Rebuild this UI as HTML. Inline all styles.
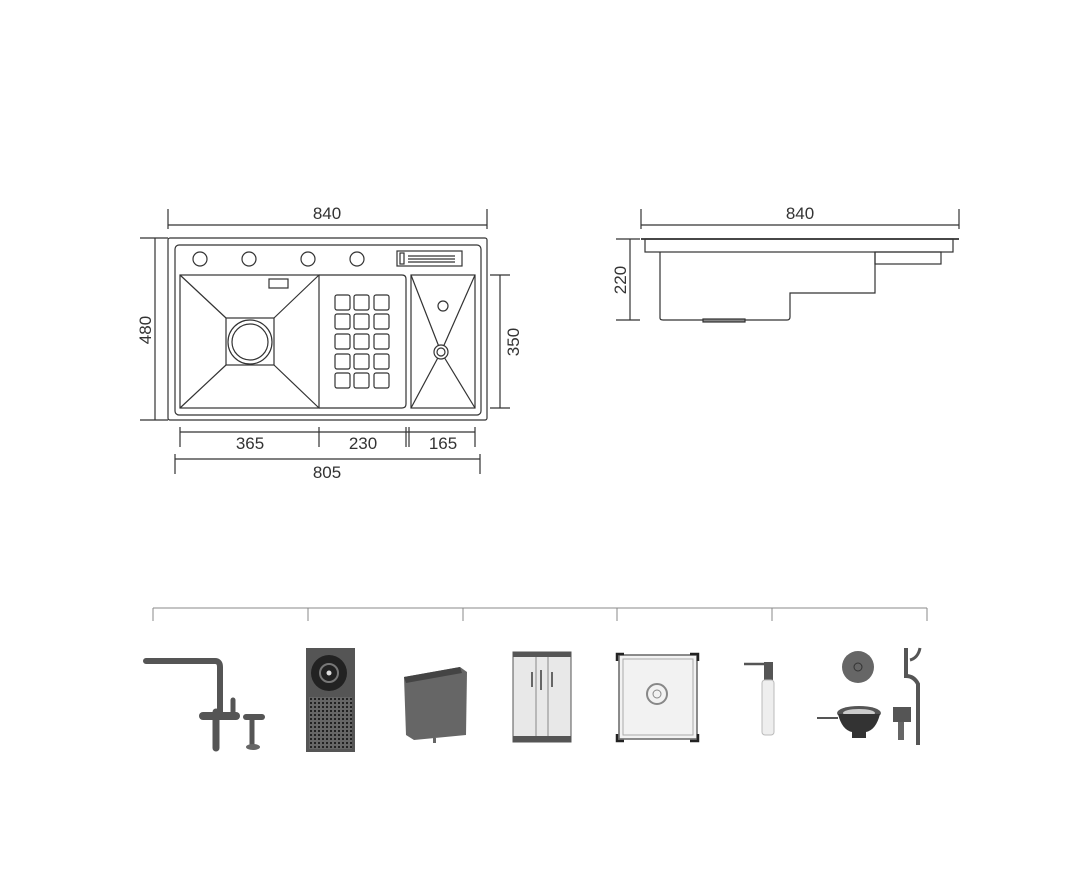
<!DOCTYPE html>
<html><head><meta charset="utf-8"><style>
html,body{margin:0;padding:0;background:#fff;}
svg{display:block}
text{font-family:"Liberation Sans",sans-serif;font-size:17px;fill:#333}
</style></head><body>
<svg width="1080" height="882" viewBox="0 0 1080 882" xmlns="http://www.w3.org/2000/svg">
<defs>
<pattern id="holes" x="309" y="697" width="4" height="4" patternUnits="userSpaceOnUse"><rect width="4" height="4" fill="#666"/><rect x="1" y="1" width="2" height="2" fill="#222"/></pattern>
</defs>
<g stroke="#333" stroke-width="1.2" fill="none">
<!-- top view dims -->
<line x1="168" y1="225" x2="487" y2="225"/><line x1="168" y1="209" x2="168" y2="229"/><line x1="487" y1="209" x2="487" y2="229"/>
<line x1="155" y1="238" x2="155" y2="420"/><line x1="140" y1="238" x2="168" y2="238"/><line x1="140" y1="420" x2="168" y2="420"/>
<line x1="500" y1="275" x2="500" y2="408"/><line x1="490" y1="275" x2="510" y2="275"/><line x1="490" y1="408" x2="510" y2="408"/>
<line x1="180" y1="432" x2="475" y2="432"/>
<line x1="180" y1="427" x2="180" y2="447"/><line x1="319" y1="427" x2="319" y2="447"/><line x1="406" y1="427" x2="406" y2="447"/><line x1="409" y1="427" x2="409" y2="447"/><line x1="475" y1="427" x2="475" y2="447"/>
<line x1="175" y1="459" x2="480" y2="459"/><line x1="175" y1="454" x2="175" y2="474"/><line x1="480" y1="454" x2="480" y2="474"/>
<!-- sink -->
<rect x="168" y="238" width="319" height="182" rx="2"/>
<rect x="175" y="245" width="306" height="170" rx="4"/>
<circle cx="200" cy="259" r="7"/><circle cx="249" cy="259" r="7"/><circle cx="308" cy="259" r="7"/><circle cx="357" cy="259" r="7"/>
<rect x="397" y="251" width="65" height="15"/><rect x="400" y="253" width="4" height="11"/>
<line x1="408" y1="256" x2="455" y2="256"/><line x1="408" y1="259" x2="455" y2="259"/><line x1="408" y1="262" x2="455" y2="262"/>
<rect x="180" y="275" width="139" height="133"/>
<rect x="226" y="318" width="48" height="47"/>
<line x1="180" y1="275" x2="226" y2="318"/><line x1="319" y1="275" x2="274" y2="318"/><line x1="180" y1="408" x2="226" y2="365"/><line x1="319" y1="408" x2="274" y2="365"/>
<circle cx="250" cy="342" r="22"/><circle cx="250" cy="342" r="18"/>
<rect x="269" y="279" width="19" height="9"/>
<path d="M319 275 H402 Q406 275 406 279 V404 Q406 408 402 408 H319"/>
<g>
<rect x="335" y="295" width="15" height="15" rx="2"/><rect x="354" y="295" width="15" height="15" rx="2"/><rect x="374" y="295" width="15" height="15" rx="2"/>
<rect x="335" y="314" width="15" height="15" rx="2"/><rect x="354" y="314" width="15" height="15" rx="2"/><rect x="374" y="314" width="15" height="15" rx="2"/>
<rect x="335" y="334" width="15" height="15" rx="2"/><rect x="354" y="334" width="15" height="15" rx="2"/><rect x="374" y="334" width="15" height="15" rx="2"/>
<rect x="335" y="354" width="15" height="15" rx="2"/><rect x="354" y="354" width="15" height="15" rx="2"/><rect x="374" y="354" width="15" height="15" rx="2"/>
<rect x="335" y="373" width="15" height="15" rx="2"/><rect x="354" y="373" width="15" height="15" rx="2"/><rect x="374" y="373" width="15" height="15" rx="2"/>
</g>
<rect x="411" y="275" width="64" height="133"/>
<line x1="411" y1="275" x2="441" y2="352"/><line x1="475" y1="275" x2="441" y2="352"/><line x1="411" y1="408" x2="441" y2="352"/><line x1="475" y1="408" x2="441" y2="352"/>
<circle cx="443" cy="306" r="5"/><circle cx="441" cy="352" r="7" fill="#fff"/><circle cx="441" cy="352" r="4"/>
<!-- side view -->
<line x1="641" y1="225" x2="959" y2="225"/><line x1="641" y1="209" x2="641" y2="229"/><line x1="959" y1="209" x2="959" y2="229"/>
<line x1="641" y1="239" x2="959" y2="239" stroke-width="1.8"/>
<rect x="645" y="239" width="308" height="13"/>
<path d="M660 252 V318 Q660 320 663 320 H787 Q790 320 790 317 V293 H875 V252"/>
<rect x="875" y="252" width="66" height="12"/>
<rect x="703" y="319" width="42" height="3" fill="#888"/>
<line x1="630" y1="239" x2="630" y2="320"/><line x1="616" y1="239" x2="640" y2="239"/><line x1="616" y1="320" x2="640" y2="320"/>
<!-- bracket -->
<g stroke="#888" stroke-width="1">
<line x1="153" y1="608" x2="927" y2="608"/>
<line x1="153" y1="608" x2="153" y2="621"/><line x1="308" y1="608" x2="308" y2="621"/><line x1="463" y1="608" x2="463" y2="621"/><line x1="617" y1="608" x2="617" y2="621"/><line x1="772" y1="608" x2="772" y2="621"/><line x1="927" y1="608" x2="927" y2="621"/>
</g>
</g>
<text x="327" y="219" text-anchor="middle">840</text>
<text x="800" y="219" text-anchor="middle">840</text>
<text x="250" y="449" text-anchor="middle">365</text>
<text x="363" y="449" text-anchor="middle">230</text>
<text x="443" y="449" text-anchor="middle">165</text>
<text x="327" y="478" text-anchor="middle">805</text>
<text transform="translate(151,330) rotate(-90)" text-anchor="middle">480</text>
<text transform="translate(519,342) rotate(-90)" text-anchor="middle">350</text>
<text transform="translate(626,280) rotate(-90)" text-anchor="middle">220</text>

<!-- faucet -->
<g fill="none" stroke="#555" stroke-linecap="round">
<path d="M146 661 H215 Q220 661 220 667 V712" stroke-width="6"/>
<path d="M216 712 V748" stroke-width="7"/>
<path d="M203 716 H236" stroke-width="8"/>
<path d="M233 700 V716" stroke-width="5"/>
<path d="M252 720 V745" stroke-width="5"/>
<path d="M246 717 H262" stroke-width="6"/>
</g>
<ellipse cx="253" cy="747" rx="7" ry="3" fill="#666"/>
<!-- drain basket -->
<rect x="306" y="648" width="49" height="104" fill="#555"/>
<circle cx="329" cy="673" r="18" fill="#222"/>
<circle cx="329" cy="673" r="9" fill="none" stroke="#777" stroke-width="2"/>
<circle cx="329" cy="673" r="2.5" fill="#ddd"/>
<rect x="309" y="697" width="43" height="52" fill="url(#holes)"/>
<!-- waste bin -->
<path d="M404 677 L460 667 L467 672 L466 735 L414 740 L406 735 Z" fill="#666"/>
<path d="M404 677 L460 667 L462 673 L406 683 Z" fill="#444"/>
<rect x="433" y="738" width="3" height="5" fill="#666"/>
<!-- cutting board -->
<rect x="513" y="652" width="58" height="90" fill="#e8e8e8" stroke="#555"/>
<rect x="513" y="652" width="58" height="5" fill="#555"/>
<rect x="513" y="736" width="58" height="6" fill="#555"/>
<line x1="536" y1="657" x2="536" y2="736" stroke="#888"/><line x1="548" y1="657" x2="548" y2="736" stroke="#888"/>
<line x1="532" y1="672" x2="532" y2="687" stroke="#666" stroke-width="2"/><line x1="541" y1="670" x2="541" y2="690" stroke="#666" stroke-width="2"/><line x1="552" y1="672" x2="552" y2="687" stroke="#666" stroke-width="2"/>
<!-- basket -->
<rect x="619" y="655" width="78" height="84" fill="#f2f2f2" stroke="#666" stroke-width="1.5"/>
<rect x="623" y="659" width="70" height="76" fill="none" stroke="#aaa"/>
<path d="M617 661 V654 H624 M690 654 H698 V661 M617 734 V741 H624 M690 741 H698 V734" fill="none" stroke="#222" stroke-width="2.5"/>
<circle cx="657" cy="694" r="10" fill="none" stroke="#888" stroke-width="2"/><circle cx="657" cy="694" r="4" fill="none" stroke="#888"/>
<!-- soap dispenser -->
<path d="M744 664 H768" stroke="#555" stroke-width="2.5"/>
<rect x="764" y="662" width="9" height="18" fill="#555"/>
<rect x="762" y="680" width="12" height="55" rx="3" fill="#eee" stroke="#bbb"/>
<!-- fittings -->
<circle cx="858" cy="667" r="16" fill="#666"/><circle cx="858" cy="667" r="4" fill="none" stroke="#333"/>
<ellipse cx="859" cy="713" rx="22" ry="7" fill="#555"/><ellipse cx="859" cy="713" rx="16" ry="4" fill="#ccc"/>
<path d="M838 714 Q842 730 852 732 V738 H866 V732 Q876 730 880 714 Z" fill="#333"/>
<line x1="817" y1="718" x2="838" y2="718" stroke="#555" stroke-width="2"/>
<rect x="893" y="707" width="18" height="15" fill="#555"/><rect x="898" y="722" width="6" height="18" fill="#666"/>
<path d="M906 648 V676 Q914 676 918 684 V745" fill="none" stroke="#555" stroke-width="4"/>
<path d="M910 660 Q918 658 920 648" fill="none" stroke="#555" stroke-width="3"/>
</svg>
</body></html>
